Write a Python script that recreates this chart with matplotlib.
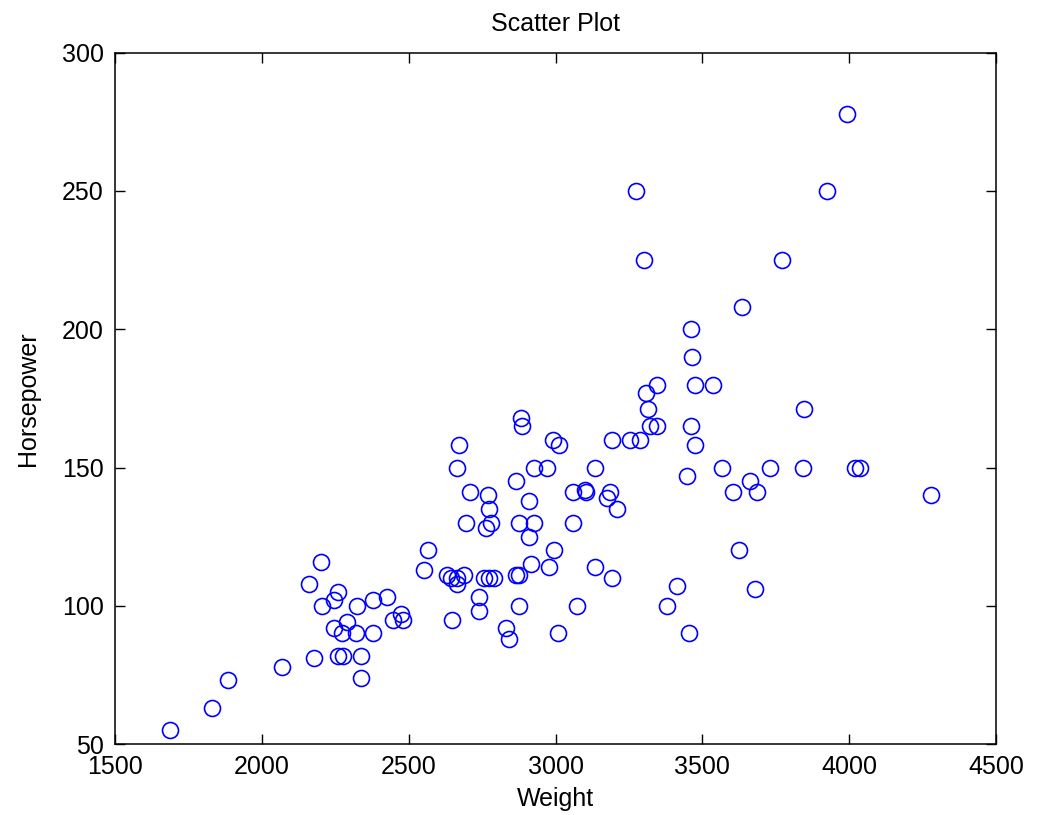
import matplotlib
matplotlib.use('Agg')
import matplotlib.pyplot as plt

# Weight vs Horsepower
weight = [1688, 1831, 1886, 2067, 2176, 2159, 2200, 2204, 2245, 2258,
          2245, 2289, 2272, 2320, 2378, 2258, 2276, 2337, 2337, 2323,
          2378, 2426, 2446, 2474, 2480, 2552, 2566,
          2630, 2645, 2665, 2688, 2665, 2648, 2665, 2672, 2695, 2710,
          2770, 2775, 2780, 2765, 2757, 2774, 2791, 2740, 2740, 2832,
          2843, 2867, 2867, 2877, 2877, 2877, 2884, 2887, 2911, 2911,
          2928, 2918, 2928, 2970, 2979, 2990, 3013, 2996, 3010, 3058,
          3058, 3072, 3100, 3105, 3136, 3136, 3177, 3185, 3208, 3191,
          3191, 3253, 3287, 3273, 3301, 3307, 3314, 3321, 3345, 3345,
          3413, 3379, 3447, 3454, 3461, 3461, 3465, 3475, 3475, 3537,
          3567, 3605, 3625, 3635, 3663, 3680, 3687, 3731, 3772, 3843,
          3847, 3926, 3994, 4021, 4038, 4278]
horsepower = [55, 63, 73, 78, 81, 108, 116, 100, 102, 105,
              92, 94, 90, 90, 90, 82, 82, 82, 74, 100,
              102, 103, 95, 97, 95, 113, 120,
              111, 110, 110, 111, 108, 95, 150, 158, 130, 141,
              140, 135, 130, 128, 110, 110, 110, 103, 98, 92,
              88, 145, 111, 111, 100, 130, 168, 165, 138, 125,
              130, 115, 150, 150, 114, 160, 158, 120, 90, 141,
              130, 100, 142, 141, 150, 114, 139, 141, 135, 110,
              160, 160, 160, 250, 225, 177, 171, 165, 165, 180,
              107, 100, 147, 90, 165, 200, 190, 180, 158, 180,
              150, 141, 120, 208, 145, 106, 141, 150, 225, 150,
              171, 250, 278, 150, 150, 140]

xticks = [1500, 2000, 2500, 3000, 3500, 4000, 4500]
yticks = [50, 100, 150, 200, 250, 300]

plt.rcParams['font.family'] = ['Liberation Sans', 'DejaVu Sans']
plt.rcParams['font.size'] = 18

fig = plt.figure(figsize=(10.39, 8.15), dpi=100)
ax = fig.add_axes([0.1107, 0.0871, 0.8479, 0.8482])
ax.plot(weight, horsepower, 'o', linestyle='none', markerfacecolor='none',
        markeredgecolor='blue', markersize=11.5, markeredgewidth=1.2)

ax.set_xlim(1500, 4500)
ax.set_ylim(50, 300)
ax.set_xticks(xticks)
ax.set_yticks(yticks)
ax.tick_params(direction='in', length=7.5, width=1.0, top=True, right=True,
               labelsize=18, colors='black')
ax.tick_params(axis='x', pad=8)
ax.tick_params(axis='y', pad=8)
for s in ax.spines.values():
    s.set_linewidth(1.1)

ax.set_title('Scatter Plot', fontsize=18, pad=16)
ax.set_xlabel('Weight', fontsize=18, labelpad=6)
ax.set_ylabel('Horsepower', fontsize=18, labelpad=16)

fig.savefig('out.png', dpi=100)
